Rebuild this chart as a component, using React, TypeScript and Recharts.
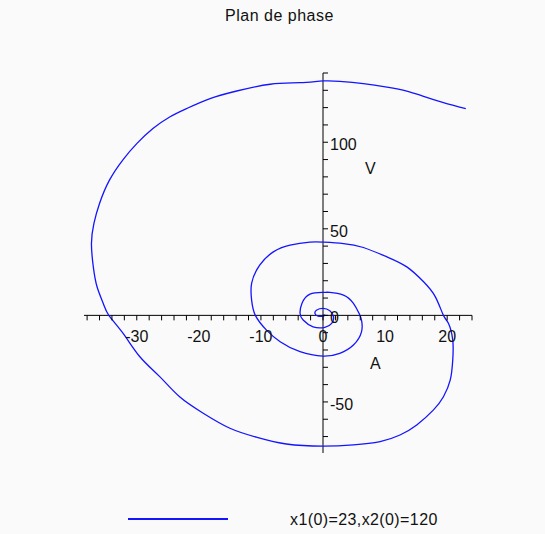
import { LineChart, Line, XAxis, YAxis, ReferenceLine, ReferenceDot } from "recharts";

// phase trajectory: A (x1) horizontal, V (x2) vertical
const posA = [
  23.0, 19.4, 16.2, 13.5, 10.3, 6.5, 2.7, 0, -3.7, -8.5, -13.9, -18.2, -22.0, -24.7, -27.4, -30.0,
  -32.2, -34.4, -36.0, -36.9, -37.3, -37.0, -36.4, -35.4, -34.5, -32.2, -29.5, -26.3, -23.1, -19.3,
  -15.0, -10.7, -5.9, 0, 4.9, 9.2, 12.4, 15.1, 17.8, 19.4, 20.5, 20.9, 20.9, 20.2, 19.4, 18.1, 16.2,
  13.5, 10.3, 6.5, 3.3, 0, -2.1, -5.3, -8.0, -10.2, -11.5, -11.5, -10.9, -9.1, -6.9, -3.7, 0, 2.7,
  4.9, 6.2, 6.2, 5.8, 4.9, 3.3, 1.1, 0, -2.1, -3.4, -3.7, -3.2, -1.6, 0.3, 1.4, 1.7, 1.1, 0, -1.0,
  -1.3, -0.8, 0, 0.3, 0,
];
const velV = [
  119.4, 122.9, 126.5, 129.6, 131.9, 133.9, 135.2, 135.4, 134.4, 133.5, 129.6, 125.2, 119.4, 114.6,
  107.9, 99.2, 90.0, 78.1, 64.6, 53.1, 41.5, 28.0, 16.5, 6.9, 0, -10.4, -23.9, -35.4, -47.0, -56.5,
  -65.2, -70.4, -74.3, -75.5, -74.8, -72.9, -69.1, -63.3, -54.6, -47.0, -37.3, -25.8, -14.3, -4.6, 0,
  10.7, 19.4, 28.0, 33.8, 39.2, 41.5, 42.3, 42.3, 40.6, 36.7, 29.0, 18.5, 8.8, 0, -8.5, -15.2, -21.0,
  -23.5, -21.9, -17.1, -9.5, -2.7, 1.2, 6.9, 11.7, 13.3, 13.3, 12.3, 6.9, 1.2, -2.7, -6.6, -6.9, -4.6,
  -0.8, 2.7, 4.0, 3.1, 1.2, -0.4, -0.4, 0.2, 0,
];

const xTicks = [
  -38, -36, -34, -32, -30, -28, -26, -24, -22, -20, -18, -16, -14, -12, -10, -8, -6, -4, -2, 0,
  2, 4, 6, 8, 10, 12, 14, 16, 18, 20, 22, 24,
];
const xLabels = [-30, -20, -10, 0, 10, 20];
const yTicks = [-70, -60, -50, -40, -30, -20, -10, 0, 10, 20, 30, 40, 50, 60, 70, 80, 90, 100, 110, 120, 130, 140];
const yLabels = [-50, 0, 50, 100];

const xDomain = [-38.5, 24];
const yDomain = [-79.5, 140];

const title = "Plan de phase";
const legendLabel = "x1(0)=23,x2(0)=120";

const data = posA.map((a, i) => ({ a, v: velV[i] }));

const FONT = "'Liberation Sans', Arial, sans-serif";
const CURVE = "#1414ff";

function XTickMark(props: any) {
  const { cx, cy } = props;
  return <line x1={cx} y1={cy} x2={cx} y2={cy + 5} stroke="#000" strokeWidth={1} />;
}

function YTickMark(props: any) {
  const { cx, cy } = props;
  return <line x1={cx} y1={cy} x2={cx + 5} y2={cy} stroke="#000" strokeWidth={1} />;
}

function XTickLabel(props: any) {
  const { cx, cy, value } = props;
  return (
    <text x={cx} y={cy + 27} textAnchor="middle" fontSize={16} fontFamily={FONT} fill="#111">
      {value}
    </text>
  );
}

function YTickLabel(props: any) {
  const { cx, cy, value } = props;
  return (
    <text x={cx + 7} y={cy + 8} textAnchor="start" fontSize={16} fontFamily={FONT} fill="#111">
      {value}
    </text>
  );
}

export default function App() {
  return (
    <div style={{ position: "absolute", left: 0, top: 0, width: 545, height: 534, background: "#fafafa", fontFamily: FONT }}>
      <div style={{ position: "absolute", left: 0, width: 559, top: 7, textAlign: "center", fontSize: 16, color: "#111", letterSpacing: 0.5 }}>
        {title}
      </div>
      <LineChart width={545} height={534} data={data} margin={{ top: 73, right: 73, bottom: 81, left: 84 }}>
        <XAxis type="number" dataKey="a" domain={xDomain} allowDataOverflow hide />
        <YAxis type="number" dataKey="v" domain={yDomain} allowDataOverflow hide />
        <ReferenceLine y={0} stroke="#000" strokeWidth={1} />
        <ReferenceLine x={0} stroke="#000" strokeWidth={1} />
        {xTicks.map(t => (
          <ReferenceDot key={"xt" + t} x={t} y={0} r={0} shape={<XTickMark />} />
        ))}
        {yTicks.map(t => (
          <ReferenceDot key={"yt" + t} x={0} y={t} r={0} shape={<YTickMark />} />
        ))}
        {xLabels.map(t => (
          <ReferenceDot key={"xl" + t} x={t} y={0} r={0} shape={<XTickLabel value={t} />} />
        ))}
        {yLabels.map(t => (
          <ReferenceDot key={"yl" + t} x={0} y={t} r={0} shape={<YTickLabel value={t} />} />
        ))}
        <Line type="natural" dataKey="v" stroke={CURVE} strokeWidth={1.3} dot={false} activeDot={false} isAnimationActive={false} />
      </LineChart>
      <div style={{ position: "absolute", left: 365, top: 160, fontSize: 16, color: "#111" }}>V</div>
      <div style={{ position: "absolute", left: 370, top: 355, fontSize: 16, color: "#111" }}>A</div>
      <div style={{ position: "absolute", left: 128, top: 518, width: 100, height: 0, borderTop: `2px solid ${CURVE}` }} />
      <div style={{ position: "absolute", left: 290, top: 511, fontSize: 16, color: "#111", letterSpacing: 0.4 }}>
        {legendLabel}
      </div>
    </div>
  );
}
